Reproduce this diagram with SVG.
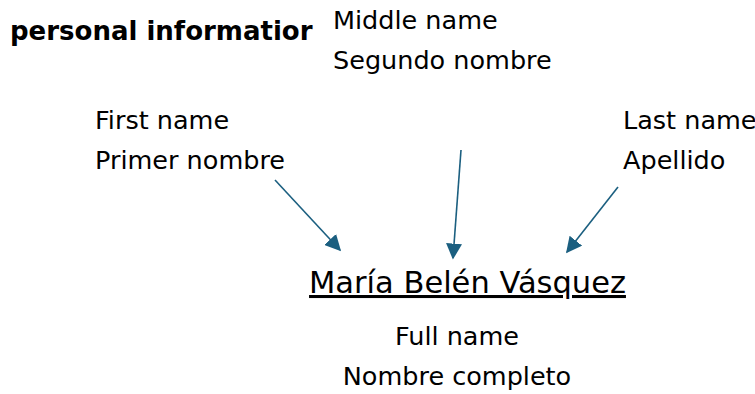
<svg xmlns="http://www.w3.org/2000/svg" width="755" height="394" viewBox="0 0 755 394">
<defs>
<style>
text{font-family:"DejaVu Sans","Verdana",sans-serif;font-size:25.5px;fill:#000}
.title{font-size:26px;font-weight:bold}
.name{font-size:30.5px;text-decoration:underline}
.arrow{stroke:#1b5f80;stroke-width:1.6;fill:none;marker-end:url(#ah)}
</style>
<marker id="ah" viewBox="0 0 10 10" refX="9" refY="5" markerWidth="16" markerHeight="16" markerUnits="userSpaceOnUse" orient="auto"><path d="M0,0 L10,5 L0,10 z" fill="#1b5f80"/></marker>
</defs>
<rect width="755" height="394" fill="#fff"/>
<g id="title"><text class="title" x="10" y="40">personal informatior</text></g>
<g id="middle"><text x="333" y="29">Middle name</text><text x="333" y="69">Segundo nombre</text></g>
<g id="first"><text x="95" y="129">First name</text><text x="95" y="169">Primer nombre</text></g>
<g id="last"><text x="623" y="129">Last name</text><text x="623" y="169">Apellido</text></g>
<g id="fullname"><text class="name" x="467.5" y="293" text-anchor="middle">María Belén Vásquez</text></g>
<g id="full"><text x="457" y="345" text-anchor="middle">Full name</text><text x="457" y="385" text-anchor="middle">Nombre completo</text></g>
<g id="connectors">
<line class="arrow" x1="275" y1="180" x2="340" y2="250"/>
<line class="arrow" x1="461" y1="150" x2="453" y2="258"/>
<line class="arrow" x1="618" y1="187" x2="567" y2="252"/>
</g>
</svg>
